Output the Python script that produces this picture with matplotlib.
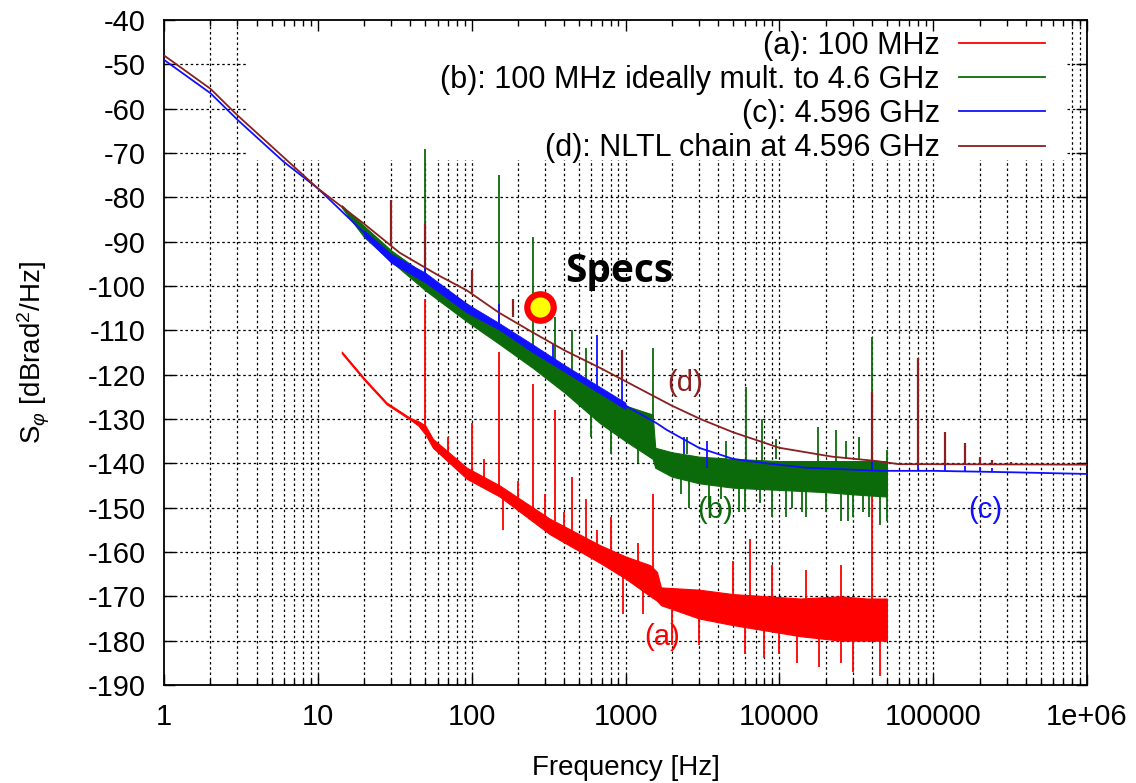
import numpy as np
import matplotlib
matplotlib.use('Agg')
import matplotlib.pyplot as plt
from matplotlib.ticker import LogLocator, NullFormatter

plt.rcParams['font.family'] = ['Liberation Sans', 'DejaVu Sans']
plt.rcParams['mathtext.fontset'] = 'custom'
plt.rcParams['mathtext.rm'] = 'Liberation Sans'
plt.rcParams['mathtext.it'] = 'Liberation Sans:italic'
plt.rcParams['axes.unicode_minus'] = False

# x axis ticks
x_ticks = [1, 10, 100, 1000, 10000, 100000, 1000000]
x_tick_labels = ['1', '10', '100', '1000', '10000', '100000', '1e+06']
y_ticks = list(range(-190, -39, 10))

labels = ['(a): 100 MHz', '(b): 100 MHz ideally mult. to 4.6 GHz',
          '(c): 4.596 GHz', '(d): NLTL chain at 4.596 GHz']
colors = ['#ff0000', '#0b6b0b', '#1010ff', '#8b1f1f']

# (a) 100 MHz - noise band (upper / lower edge)
a_f = [14.3, 20, 28, 40, 45, 50, 56, 93, 152, 322, 685, 1000, 1450, 1600, 1700,
       3000, 5000, 13700, 25000, 37000, 50000]
a_hi = [-114.8, -120.8, -126.3, -129.8, -130.5, -131.5, -134.5, -141, -145,
        -152.5, -158.5, -161, -163, -164.5, -168, -168.5, -169.5, -170.5, -170,
        -170.5, -170.5]
a_lo = [-115.2, -121.2, -126.7, -130.2, -131.5, -133.5, -136.5, -143.5, -147.5,
        -156, -162.5, -166, -170, -171, -172, -175, -176.5, -179, -180, -180, -180]
# (a) spikes: frequency, bottom, top
a_spk_f = [50, 70, 100, 120, 150, 160, 200, 250, 300, 350, 400, 450, 550, 650,
           800, 960, 1200, 1300, 1500, 2000, 3000, 5000, 6000, 6400, 8000, 9000,
           10000, 13000, 15000, 18000, 25000, 30000, 40000, 45000]
a_spk_lo = [-133, -139, -143, -145, -146, -155, -150, -150, -154, -153, -157,
            -156, -158, -159, -161, -174, -166, -174, -166, -181, -181, -170,
            -183, -170, -184, -171, -183, -185, -171, -186, -185, -187, -171, -188]
a_spk_hi = [-103, -134, -131, -139, -115, -147, -144, -122, -147, -128, -151,
            -143, -148, -155, -152, -163, -158, -166, -147, -173, -174, -162,
            -176, -157, -177, -163, -176, -177, -164, -178, -163, -178, -140, -178]

# (b) 100 MHz ideally multiplied - noise band
b_f = [14.3, 20, 30, 50, 93, 150, 250, 400, 685, 1000, 1500, 1560, 2000,
       3000, 5000, 10000, 20000, 30000, 50000]
b_hi = [-81.8, -86.5, -92, -97.5, -104, -109, -114, -118.5, -123.5, -127, -129,
        -136.5, -137.5, -138.5, -139, -139.5, -139.5, -139.5, -139.5]
b_lo = [-82.3, -89, -94.5, -101, -108, -113, -118.5, -124, -131, -135, -139,
        -141, -143, -144.5, -145.5, -146, -146.5, -147, -147.5]
b_spk_f = [50, 150, 250, 350, 450, 550, 600, 800, 1200, 1500, 2300, 2500, 2600,
           3500, 4200, 4500, 5500, 6000, 6100, 7500, 7700, 9000, 9500, 11000,
           12000, 14000, 15000, 17800, 20000, 23400, 25000, 27000, 28000, 30000,
           33000, 35000, 38000, 40000, 45000, 50000]
b_spk_lo = [-99, -111, -116, -119, -121, -123, -128, -132, -134, -132, -143,
            -138, -143, -144, -144, -139, -145, -145, -140, -146, -140, -146,
            -139, -146, -146, -146, -146, -141, -146, -141, -147, -139, -147,
            -147, -139, -147, -147, -141, -147, -153]
b_spk_hi = [-69, -75, -89, -107, -110, -114, -134, -138, -140, -114, -147,
            -134, -150, -150, -148, -135, -151, -151, -122.7, -149, -130, -152,
            -134.5, -152, -150, -151, -152, -131.7, -151, -132.6, -153, -135,
            -153, -152, -134, -151, -152, -111.5, -154, -137]

# (c) 4.596 GHz
c_f = [1, 2, 3, 6, 10, 20, 26, 50, 93, 150, 250, 400, 685, 1000, 1600, 1860,
       3000, 5000, 8200, 15000, 33000, 45000, 100000, 300000, 1000000]
c_v = [-49, -56.5, -62.5, -72, -78, -88, -92.5, -98, -105, -109, -114, -118.5,
       -123.5, -127, -131, -132.5, -136.5, -139, -140, -141, -141.5, -141.7,
       -141.7, -142, -142.4]
cb_f = [20, 30, 50, 93, 150, 250, 400, 685, 1000]
cb_hi = [-87.5, -92.8, -97, -104, -108.3, -113.2, -117.8, -122.8, -126.3]
cb_lo = [-88.7, -94.8, -99.2, -106, -109.8, -115, -119.3, -124.3, -127.8]
c_spk_f = [50, 150, 340, 650, 950, 2400, 3400, 40000, 80000, 120000, 160000,
           200000, 240000]
c_spk_lo = [-99, -109, -117, -123, -126.5, -138, -141, -141.7, -141.7, -141.7,
            -141.7, -141.7, -141.7]
c_spk_hi = [-95, -104, -113, -111, -118, -134, -135, -139, -140, -140.3, -140.5,
            -140.8, -141]

# (d) NLTL chain at 4.596 GHz
d_f = [1, 2, 3, 6, 10, 20, 34, 60, 93, 150, 250, 400, 685, 1000, 2000, 3060,
       5000, 10000, 22000, 43000, 60000, 100000, 1000000]
d_v = [-48, -55.5, -61.5, -71, -78, -86, -92.5, -97.5, -101, -106, -110.5,
       -114.5, -118.5, -121.5, -127, -130, -133, -136.5, -138.5, -139.5, -140.2,
       -140.2, -140.3]
d_spk_f = [30, 50, 100, 185, 950, 40000, 80000, 120000, 160000, 200000, 240000,
           320000]
d_spk_lo = [-91, -95.5, -101.5, -107, -121, -139.5, -140.2, -140.2, -140.2,
            -140.2, -140.2, -140.2]
d_spk_hi = [-80.5, -86, -96.5, -103, -114.4, -124, -116.3, -133, -135.5, -138.5,
            -139.3, -139.6]

# curve labels
tag_text = ['(a)', '(b)', '(c)', '(d)']
tag_f = [1730, 3830, 218000, 2440]
tag_v = [-179.2, -150.5, -150.5, -121.9]

spec_f, spec_v = 280, -104.7

fig = plt.figure(figsize=(11.36, 7.83), dpi=100)
ax = fig.add_axes([0.1444, 0.1252, 0.8125, 0.8493])
ax.set_xscale('log')
ax.set_xlim(1, 1e6)
ax.set_ylim(-190, -40)
ax.set_xticks(x_ticks)
ax.set_xticklabels(x_tick_labels)
ax.xaxis.set_minor_locator(LogLocator(base=10, subs=np.arange(2, 10), numticks=20))
ax.xaxis.set_minor_formatter(NullFormatter())
ax.set_yticks(y_ticks)

# dotted grid, drawn by hand so the key area can blank it out
grid_kw = dict(color='black', lw=0.9, ls=(0, (2, 2.2)), zorder=0.5)
for xv in list(ax.xaxis.get_majorticklocs()) + list(ax.xaxis.get_minorticklocs()):
    if 1 < xv < 1e6:
        ax.axvline(xv, **grid_kw)
for yv in y_ticks[1:-1]:
    ax.axhline(yv, **grid_kw)
ax.add_patch(plt.Rectangle((0.091, 0.789), 0.886, 0.211, transform=ax.transAxes,
                           color='white', lw=0, zorder=0.8))

# (a)
ax.fill_between(a_f, a_lo, a_hi, color=colors[0], lw=0.8, zorder=2)
ax.vlines(a_spk_f, a_spk_lo, a_spk_hi, color=colors[0], lw=1.3, zorder=2)
ax.plot([], [], color=colors[0], lw=1.3, label=labels[0])
# (b)
ax.fill_between(b_f, b_lo, b_hi, color=colors[1], lw=0.8, zorder=3)
ax.vlines(b_spk_f, b_spk_lo, b_spk_hi, color=colors[1], lw=1.3, zorder=3)
ax.plot([], [], color=colors[1], lw=1.3, label=labels[1])
# (c)
ax.plot(c_f, c_v, color=colors[2], lw=1.3, zorder=4, label=labels[2])
ax.fill_between(cb_f, cb_lo, cb_hi, color=colors[2], lw=0.5, zorder=4)
ax.vlines(c_spk_f, c_spk_lo, c_spk_hi, color=colors[2], lw=1.3, zorder=4)
# (d)
ax.plot(d_f, d_v, color=colors[3], lw=1.3, zorder=5, label=labels[3])
ax.vlines(d_spk_f, d_spk_lo, d_spk_hi, color=colors[3], lw=1.6, zorder=5)

for t, f, v, c in zip(tag_text, tag_f, tag_v, colors):
    ax.text(f, v, t, color=c, fontsize=21, ha='center', va='center', zorder=6)

ax.plot(spec_f, spec_v, 'o', ms=19, mfc='#ffff00', mec='#ff0000', mew=4.5, zorder=10)
ax.text(405, -96.8, 'Specs', fontsize=28, fontweight='bold', family='Open Sans',
        ha='left', va='center', zorder=10)

ax.tick_params(which='both', direction='in', top=True, right=True, labelsize=21,
               width=1, colors='black')
ax.tick_params(which='major', length=8, pad=13)
ax.tick_params(which='minor', length=4)
for s in ax.spines.values():
    s.set_linewidth(1.3)

ax.set_xlabel('Frequency [Hz]', fontsize=20, labelpad=17)
ax.set_ylabel(r'S$_{\varphi}$ [dBrad$^2$/Hz]', fontsize=20, labelpad=26)

ax.legend(loc='upper right', bbox_to_anchor=(0.9545, 0.984), markerfirst=False,
          frameon=False, fontsize=22, handlelength=2.8, handletextpad=0.65,
          labelspacing=0.14, borderaxespad=0, borderpad=0)

fig.savefig('out.png', dpi=100)
